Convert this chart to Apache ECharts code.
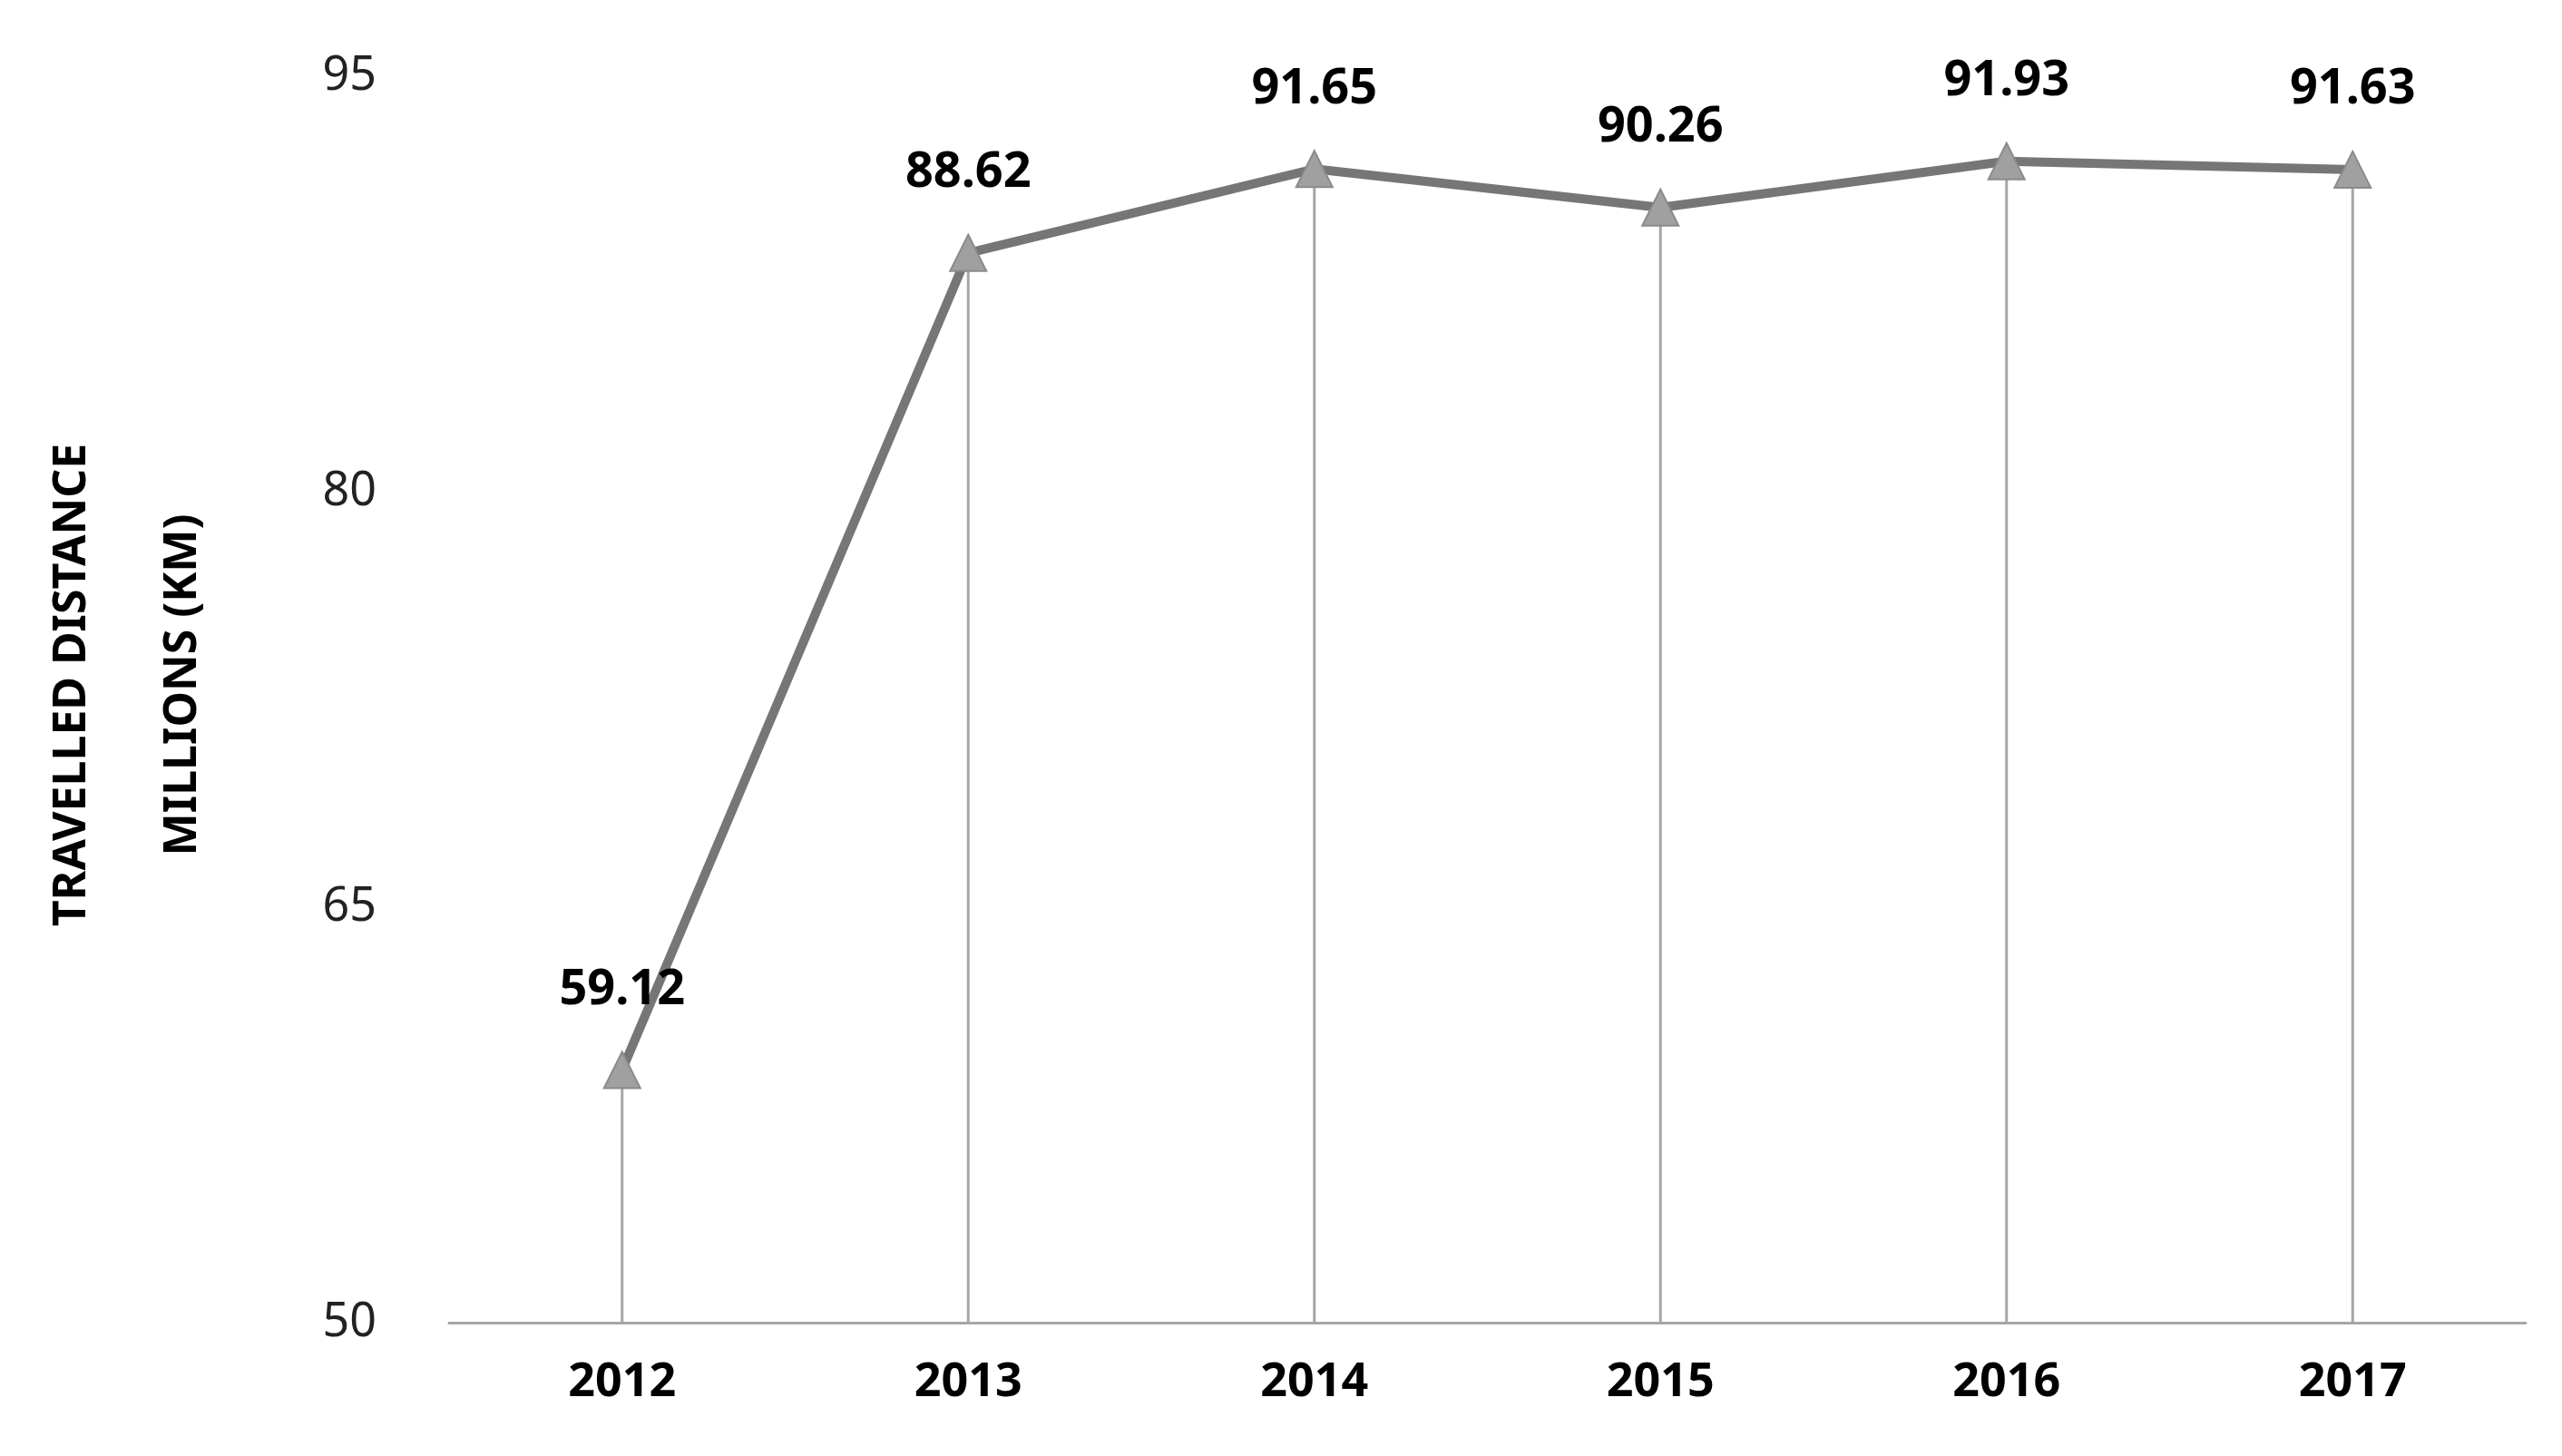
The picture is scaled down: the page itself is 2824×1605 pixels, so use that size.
<!DOCTYPE html>
<html><head><meta charset="utf-8">
<script src="https://cdn.jsdelivr.net/npm/echarts@6/dist/echarts.min.js"></script>
<style>html,body{margin:0;padding:0;background:#fff}#c{width:2824px;height:1605px}</style>
</head><body><div id="c"></div>
<script>
const years = ['2012','2013','2014','2015','2016','2017'];
const distance = [59.12, 88.62, 91.65, 90.26, 91.93, 91.63];
const yTicks = [50, 65, 80, 95];
const chart = echarts.init(document.getElementById('c'));
const font = 'Noto Sans';
chart.setOption({
  animation: false,
  grid: {left: 495, right: 40, top: 84, bottom: 147},
  xAxis: {type: 'category', data: years, boundaryGap: true,
    axisLine: {lineStyle: {color: '#a6a6a6', width: 3}}, axisTick: {show: false},
    axisLabel: {fontFamily: font, fontSize: 52, fontWeight: 'bold', color: '#000', margin: 40}},
  yAxis: {type: 'value', min: yTicks[0], max: yTicks[3], interval: 15,
    axisLine: {show: false}, axisTick: {show: false}, splitLine: {show: false},
    axisLabel: {fontFamily: font, fontSize: 52, color: '#222', margin: 80}},
  graphic: [
    {type: 'text', x: 80, y: 755, rotation: Math.PI/2, style: {text: 'TRAVELLED DISTANCE', fontFamily: font, fontSize: 50, fontWeight: 'bold', fill: '#000', textAlign: 'center', textVerticalAlign: 'middle'}},
    {type: 'text', x: 202, y: 755, rotation: Math.PI/2, style: {text: 'MILLIONS (KM)', fontFamily: font, fontSize: 50, fontWeight: 'bold', fill: '#000', textAlign: 'center', textVerticalAlign: 'middle'}}
  ],
  series: [
    {type: 'bar', data: distance, barWidth: 3, itemStyle: {color: '#a6a6a6'}, silent: true},
    {type: 'line', data: distance, symbol: 'triangle', symbolSize: 40,
      lineStyle: {color: '#767676', width: 10},
      itemStyle: {color: '#a0a0a0', borderColor: '#8a8a8a', borderWidth: 2},
      label: {show: true, position: 'top', distance: 40, fontFamily: font, fontSize: 54, fontWeight: 'bold', color: '#000', formatter: p => p.value.toFixed(2)}}
  ]
});
</script></body></html>
